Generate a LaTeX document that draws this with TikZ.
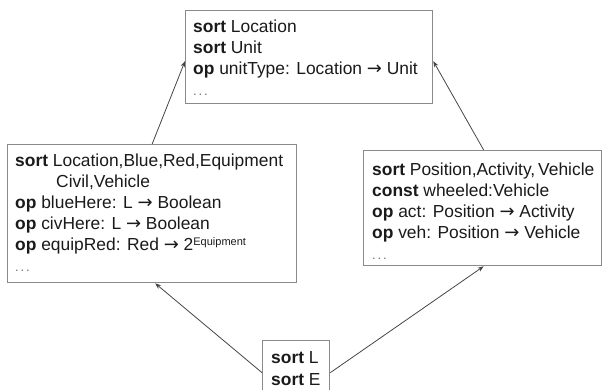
\documentclass[tikz,border=0pt]{standalone}
\usepackage{fontspec}
\setmainfont{Liberation Sans}
\newfontfamily\arrowfont{DejaVu Sans}
\usetikzlibrary{arrows.meta}
\definecolor{boxgray}{HTML}{8A8A8A}
\definecolor{linkgray}{HTML}{454545}
\definecolor{inkblack}{HTML}{1A1A1A}
\definecolor{dotgray}{HTML}{707070}
\newcommand{\mapsarrow}{{\arrowfont\fontsize{18}{21}\selectfont →}}
\newcommand{\moredots}{{\color{dotgray}\fontsize{13}{21}\selectfont .\kern1.8pt.\kern1.8pt.}}
\begin{document}
\begin{tikzpicture}[x=1pt,y=-1pt,
  box/.style={draw=boxgray, line width=1.3pt, inner sep=0pt, anchor=north west},
  spec/.style={anchor=north west, inner sep=0pt, align=left, text=inkblack,
    font=\fontsize{17.4}{21}\selectfont},
  link/.style={draw=linkgray, line width=0.8pt, -{Stealth[length=6pt,width=4.5pt]}}]
\useasboundingbox (0,0) rectangle (602,389);

% specification boxes
\node[box, minimum width=247pt, minimum height=93pt]  (top)    at (185,10)  {};
\node[box, minimum width=289pt, minimum height=138pt] (left)   at (7,144)   {};
\node[box, minimum width=238pt, minimum height=115pt] (right)  at (363,150) {};
\node[box, minimum width=67pt,  minimum height=60pt]  (bottom) at (262,340) {};

% their contents
\node[spec] (toptext) at (193,17.3) {\strut\textbf{sort} Location\\
  \textbf{sort} Unit\\
  \textbf{op} unitType: Location \mapsarrow{} Unit\\
  \moredots};
\node[spec] (lefttext) at (15,151.3) {\strut\textbf{sort} Location,Blue,Red,Equipment\\
  \hspace*{41pt}Civil,Vehicle\\
  \textbf{op} blueHere: L \mapsarrow{} Boolean\\
  \textbf{op} civHere: L \mapsarrow{} Boolean\\
  \textbf{op} equipRed: Red \mapsarrow{} 2\raisebox{5pt}{\fontsize{11}{11}\selectfont Equipment}\\
  \moredots};
\node[spec] (righttext) at (372,160.3) {\strut\textbf{sort} Position,Activity,\,Vehicle\\
  \textbf{const} wheeled:Vehicle\\
  \textbf{op} act: Position \mapsarrow{} Activity\\
  \textbf{op} veh: Position \mapsarrow{} Vehicle\\
  \moredots};
\node[spec, font=\fontsize{17.4}{22}\selectfont] (bottomtext) at (271,348.3) {\strut\textbf{sort} L\\
  \textbf{sort} E};

% inclusions
\draw[link] ([yshift=-2pt]bottom.west) -- ([xshift=3pt]left.south);
\draw[link] ([yshift=-2pt]bottom.east) -- ([xshift=1pt]right.north |- right.south);
\draw[link] (left.north) -- ([yshift=-4pt]top.west);
\draw[link] ([xshift=1pt]right.north) -- ([yshift=-4pt]top.east);
\end{tikzpicture}
\end{document}
